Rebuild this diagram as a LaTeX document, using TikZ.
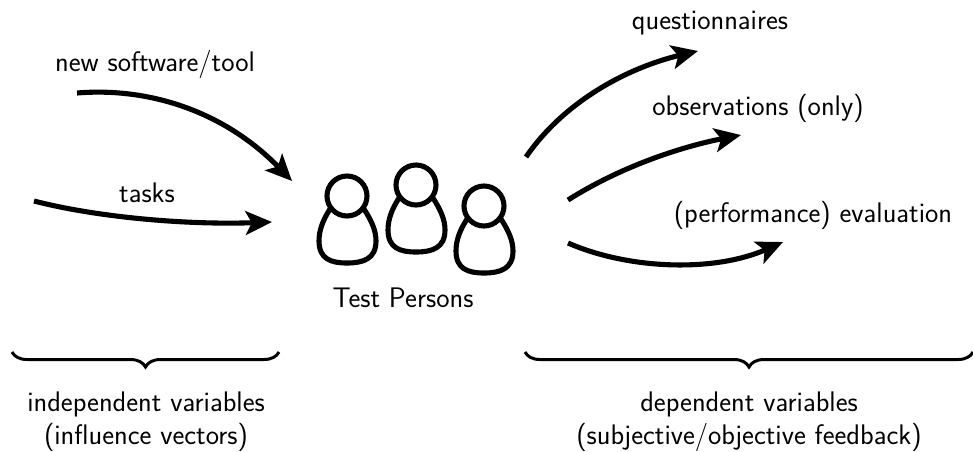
\documentclass[tikz,border=0pt]{standalone}
\usepackage{tikz}
\usetikzlibrary{arrows.meta,decorations.pathreplacing}
\renewcommand{\familydefault}{\sfdefault}
\tikzset{
    label text/.style={font=\fontsize{16.1}{18.7}\selectfont\sffamily,inner sep=0pt,align=center},
    flow arrow/.style={line width=2.9pt,-{Stealth[length=15pt,width=13.5pt,inset=3.5pt]}},
    bracket/.style={line width=1.7pt,decorate,decoration={brace,mirror,amplitude=0.3cm}},
    pics/person/.style={code={
        \draw[line width=2.9pt] (0,0) circle (20);
        \draw[line width=2.9pt] (-17,13) .. controls (-24,24) and (-28,34) .. (-28,45)
            .. controls (-28,63) and (-16,67) .. (0,67)
            .. controls (16,67) and (29,63) .. (29,45)
            .. controls (29,34) and (24,24) .. (17,13);
    }}
}
\begin{document}
\begin{tikzpicture}[x=0.02cm,y=-0.02cm]
    \useasboundingbox (0,0) rectangle (973,451);
    % the three persons
    \pic (personA) at (347,196) {person};
    \pic (personB) at (416,185) {person};
    \pic (personC) at (484,206) {person};
    \node[label text] (persons) at (403,298) {Test Persons};
    % left side
    \node[label text] (software) at (155,64) {new software/tool};
    \node[label text] (tasks) at (147,193) {tasks};
    \coordinate (softwareIn) at (77,93);
    \coordinate (softwareOut) at (292,181);
    \coordinate (tasksIn) at (34,201);
    \coordinate (tasksOut) at (272,222);
    \draw[flow arrow] (softwareIn) .. controls (150,87) and (225,112) .. (softwareOut);
    \draw[flow arrow] (tasksIn) .. controls (100,218) and (190,225) .. (tasksOut);
    % right side
    \node[label text] (questionnaires) at (710,23) {questionnaires};
    \node[label text] (observations) at (758,108) {observations (only)};
    \node[label text] (evaluation) at (813,215) {(performance) evaluation};
    \coordinate (questionnairesIn) at (526,157);
    \coordinate (questionnairesOut) at (698,51);
    \coordinate (observationsIn) at (568,200);
    \coordinate (observationsOut) at (741,135);
    \coordinate (evaluationIn) at (568,243);
    \coordinate (evaluationOut) at (783,242);
    \draw[flow arrow] (questionnairesIn) .. controls (565,100) and (630,67) .. (questionnairesOut);
    \draw[flow arrow] (observationsIn) .. controls (620,167) and (680,147) .. (observationsOut);
    \draw[flow arrow] (evaluationIn) .. controls (630,270) and (715,272) .. (evaluationOut);
    % braces and what they stand for
    \coordinate (indepLeft) at (12,352);
    \coordinate (indepRight) at (279,352);
    \coordinate (depLeft) at (525,352);
    \coordinate (depRight) at (973,352);
    \draw[bracket] (indepLeft) -- (indepRight);
    \draw[bracket] (depLeft) -- (depRight);
    \node[label text] (independent) at (146,422) {independent variables\\(influence vectors)};
    \node[label text] (dependent) at (749,422) {dependent variables\\(subjective/objective feedback)};
\end{tikzpicture}
\end{document}
